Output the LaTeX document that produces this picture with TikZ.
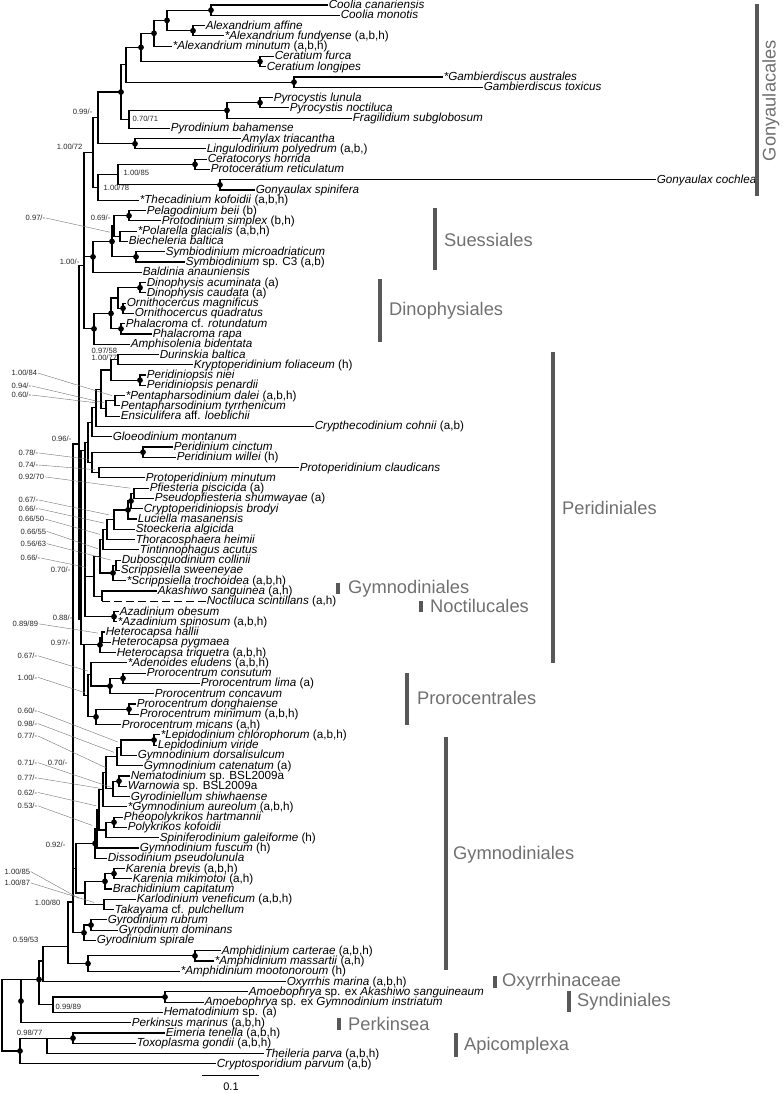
\documentclass[tikz,border=0pt]{standalone}
\usepackage{fontspec}
\setmainfont{Liberation Sans}
\definecolor{cladegray}{RGB}{112,112,112}
\definecolor{bargray}{RGB}{88,88,88}
\newcommand{\up}[1]{\textup{#1}}

\begin{document}
\begin{tikzpicture}[x=1pt, y=-10.28pt,
  branch/.style={line width=1.15pt},
  leaf/.style={anchor=west, inner sep=0.6pt, text height=8pt, text depth=1pt,
    font=\fontsize{11.7}{13}\selectfont\itshape},
  supp/.style={inner sep=0.5pt, text=black!85, font=\fontsize{7.6}{8}\selectfont},
  leader/.style={line width=0.4pt, black!55},
  clade/.style={anchor=west, inner sep=0pt, text=cladegray, font=\fontsize{18.3}{20}\selectfont},
  cladebar/.style={line width=4pt, draw=bargray}]
\useasboundingbox (0,0.514) rectangle (783,106.84);

% ---- leaves (x in px, y in rows)
% Gonyaulacales
\node[leaf] (Ccan) at (328,1) {Coolia canariensis};
\node[leaf] (Cmon) at (340,2) {Coolia monotis};
\node[leaf] (Aaff) at (205,3) {Alexandrium affine};
\node[leaf] (Afun) at (224,4) {*Alexandrium fundyense \up{(a,b,h)}};
\node[leaf] (Amin) at (172,5) {*Alexandrium minutum \up{(a,b,h)}};
\node[leaf] (Cfur) at (274,6) {Ceratium furca};
\node[leaf] (Clon) at (266,7) {Ceratium longipes};
\node[leaf] (Gaus) at (443,8) {*Gambierdiscus australes};
\node[leaf] (Gtox) at (483,9) {Gambierdiscus toxicus};
\node[leaf] (Plun) at (273,10) {Pyrocystis lunula};
\node[leaf] (Pnoc) at (289,11) {Pyrocystis noctiluca};
\node[leaf] (Fsub) at (352,12) {Fragilidium subglobosum};
\node[leaf] (Pbah) at (170,13) {Pyrodinium bahamense};
\node[leaf] (Atri) at (241,14) {Amylax triacantha};
\node[leaf] (Lpol) at (206,15) {Lingulodinium polyedrum \up{(a,b,)}};
\node[leaf] (Chor) at (207,16) {Ceratocorys horrida};
\node[leaf] (Pret) at (210,17) {Protoceratium reticulatum};
\node[leaf] (Gcoc) at (656,18) {Gonyaulax cochlea};
\node[leaf] (Gspi) at (255,19) {Gonyaulax spinifera};
\node[leaf] (Tkof) at (139,20) {*Thecadinium kofoidii \up{(a,b,h)}};
% Suessiales
\node[leaf] (Pbei) at (146,21) {Pelagodinium beii \up{(b)}};
\node[leaf] (Psim) at (161,22) {Protodinium simplex \up{(b,h)}};
\node[leaf] (Pgla) at (137,23) {*Polarella glacialis \up{(a,b,h)}};
\node[leaf] (Bbal) at (128,24) {Biecheleria baltica};
\node[leaf] (Smic) at (165,25) {Symbiodinium microadriaticum};
\node[leaf] (Ssp)  at (185,26) {Symbiodinium \up{sp. C3 (a,b)}};
\node[leaf] (Bana) at (142,27) {Baldinia anauniensis};
% Dinophysiales
\node[leaf] (Dacu) at (146,28) {Dinophysis acuminata \up{(a)}};
\node[leaf] (Dcau) at (146,29) {Dinophysis caudata \up{(a)}};
\node[leaf] (Omag) at (126,30) {Ornithocercus magnificus};
\node[leaf] (Oqua) at (134,31) {Ornithocercus quadratus};
\node[leaf] (Prot) at (125,32) {Phalacroma \up{cf.} rotundatum};
\node[leaf] (Prap) at (152,33) {Phalacroma rapa};
\node[leaf] (Abid) at (130,34) {Amphisolenia bidentata};
% Peridiniales
\node[leaf] (Dbal) at (159,35) {Durinskia baltica};
\node[leaf] (Kfol) at (193,36) {Kryptoperidinium foliaceum \up{(h)}};
\node[leaf] (Pnie) at (146,37) {Peridiniopsis niei};
\node[leaf] (Ppen) at (146,38) {Peridiniopsis penardii};
\node[leaf] (Pdal) at (125,39) {*Pentapharsodinium dalei \up{(a,b,h)}};
\node[leaf] (Ptyr) at (120,40) {Pentapharsodinium tyrrhenicum};
\node[leaf] (Eloe) at (120,41) {Ensiculifera \up{aff.} loeblichii};
\node[leaf] (Ccoh) at (314,42) {Crypthecodinium cohnii \up{(a,b)}};
\node[leaf] (Gmon) at (112,43) {Gloeodinium montanum};
\node[leaf] (Pcin) at (173,44) {Peridinium cinctum};
\node[leaf] (Pwil) at (176,45) {Peridinium willei \up{(h)}};
\node[leaf] (Pcla) at (299,46) {Protoperidinium claudicans};
\node[leaf] (Pmin) at (145,47) {Protoperidinium minutum};
\node[leaf] (Ppis) at (149,48) {Pfiesteria piscicida \up{(a)}};
\node[leaf] (Pshu) at (154,49) {Pseudopfiesteria shumwayae \up{(a)}};
\node[leaf] (Cbro) at (143,50) {Cryptoperidiniopsis brodyi};
\node[leaf] (Lmas) at (137,51) {Luciella masanensis};
\node[leaf] (Salg) at (135,52) {Stoeckeria algicida};
\node[leaf] (Thei) at (135,53) {Thoracosphaera heimii};
\node[leaf] (Tacu) at (139,54) {Tintinnophagus acutus};
\node[leaf] (Dcol) at (121,55) {Duboscquodinium collinii};
\node[leaf] (Sswe) at (120,56) {Scrippsiella sweeneyae};
\node[leaf] (Stro) at (126,57) {*Scrippsiella trochoidea \up{(a,b,h)}};
\node[leaf] (Asan) at (157,58) {Akashiwo sanguinea \up{(a,h)}};
\node[leaf] (Nsci) at (206,59) {Noctiluca scintillans \up{(a,h)}};
\node[leaf] (Aobe) at (119,60) {Azadinium obesum};
\node[leaf] (Aspi) at (117,61) {*Azadinium spinosum \up{(a,b,h)}};
\node[leaf] (Hhal) at (105,62) {Heterocapsa hallii};
\node[leaf] (Hpyg) at (111,63) {Heterocapsa pygmaea};
\node[leaf] (Htri) at (116,64) {Heterocapsa triquetra \up{(a,b,h)}};
% Prorocentrales
\node[leaf] (Aelu) at (127,65) {*Adenoides eludens \up{(a,b,h)}};
\node[leaf] (Pcon) at (146,66) {Prorocentrum consutum};
\node[leaf] (Plim) at (200,67) {Prorocentrum lima \up{(a)}};
\node[leaf] (Pcav) at (154,68) {Prorocentrum concavum};
\node[leaf] (Pdon) at (136,69) {Prorocentrum donghaiense};
\node[leaf] (Pmnm) at (139,70) {Prorocentrum minimum \up{(a,b,h)}};
\node[leaf] (Pmic) at (121,71) {Prorocentrum micans \up{(a,h)}};
% Gymnodiniales
\node[leaf] (Lchl) at (160,72) {*Lepidodinium chlorophorum \up{(a,b,h)}};
\node[leaf] (Lvir) at (157,73) {Lepidodinium viride};
\node[leaf] (Gdor) at (137,74) {Gymnodinium dorsalisulcum};
\node[leaf] (Gcat) at (143,75) {Gymnodinium catenatum \up{(a)}};
\node[leaf] (Nsp)  at (130,76) {Nematodinium \up{sp. BSL2009a}};
\node[leaf] (Wsp)  at (127,77) {Warnowia \up{sp. BSL2009a}};
\node[leaf] (Gshi) at (130,78) {Gyrodiniellum shiwhaense};
\node[leaf] (Gaur) at (127,79) {*Gymnodinium aureolum \up{(a,b,h)}};
\node[leaf] (Phar) at (123,80) {Pheopolykrikos hartmannii};
\node[leaf] (Pkof) at (127,81) {Polykrikos kofoidii};
\node[leaf] (Sgal) at (159,82) {Spiniferodinium galeiforme \up{(h)}};
\node[leaf] (Gfus) at (139,83) {Gymnodinium fuscum \up{(h)}};
\node[leaf] (Dpse) at (107,84) {Dissodinium pseudolunula};
\node[leaf] (Kbre) at (125,85) {Karenia brevis \up{(a,b,h)}};
\node[leaf] (Kmik) at (132,86) {Karenia mikimotoi \up{(a,h)}};
\node[leaf] (Bcap) at (112,87) {Brachidinium capitatum};
\node[leaf] (Kven) at (136,88) {Karlodinium veneficum \up{(a,b,h)}};
\node[leaf] (Tpul) at (114,89) {Takayama \up{cf.} pulchellum};
\node[leaf] (Grub) at (107,90) {Gyrodinium rubrum};
\node[leaf] (Gdom) at (118,91) {Gyrodinium dominans};
\node[leaf] (Gspr) at (96,92) {Gyrodinium spirale};
\node[leaf] (Acar) at (221,93) {Amphidinium carterae \up{(a,b,h)}};
\node[leaf] (Amas) at (214,94) {*Amphidinium massartii \up{(a,h)}};
\node[leaf] (Amoo) at (180,95) {*Amphidinium mootonoroum \up{(h)}};
% outgroups
\node[leaf] (Omar) at (286,96) {Oxyrrhis marina \up{(a,b,h)}};
\node[leaf] (AmAk) at (248,97) {Amoebophrya \up{sp. ex} Akashiwo sanguineaum};
\node[leaf] (AmGy) at (204,98) {Amoebophrya \up{sp. ex} Gymnodinium instriatum};
\node[leaf] (Hsp)  at (163,99) {Hematodinium \up{sp. (a)}};
\node[leaf] (Pmar) at (131,100) {Perkinsus marinus \up{(a,b,h)}};
\node[leaf] (Eten) at (165,101) {Eimeria tenella \up{(a,b,h)}};
\node[leaf] (Tgon) at (136,102) {Toxoplasma gondii \up{(a,b,h)}};
\node[leaf] (Tpar) at (264,103) {Theileria parva \up{(a,b,h)}};
\node[leaf] (Cpar) at (216,104) {Cryptosporidium parvum \up{(a,b)}};

% ---- internal nodes
\coordinate (nCool) at (211,1.5);
\coordinate (nAlex) at (193,3.5);
\coordinate (nCA)   at (167,2.5);
\coordinate (nCAm)  at (154,3.75);
\coordinate (nCer)  at (260,6.5);
\coordinate (nAC)   at (141,5.12);
\coordinate (nGam)  at (294,8.5);
\coordinate (nAG)   at (126,6.81);
\coordinate (nPyr)  at (260,10.5);
\coordinate (nPF)   at (227,11.25);
\coordinate (nPyd)  at (129,12.12);
\coordinate (nB)    at (121,9.47);
\coordinate (nAmy)  at (135,14.5);
\coordinate (nC)    at (98,11.98);
\coordinate (nCP)   at (195,16.5);
\coordinate (nGon)  at (220,18.5);
\coordinate (nG)    at (118,17.5);
\coordinate (nH)    at (98,18.75);
\coordinate (nE)    at (93,15.37);
\coordinate (nPP)   at (129,21.5);
\coordinate (nPB)   at (120,23.5);
\coordinate (nJ)    at (114,22.5);
\coordinate (nSym)  at (136,25.5);
\coordinate (nK)    at (112,24);
\coordinate (nL)    at (93,25.5);
\coordinate (nDin)  at (140,28.5);
\coordinate (nOrn)  at (123,30.5);
\coordinate (nN)    at (118,29.5);
\coordinate (nPha)  at (121,32.5);
\coordinate (nO)    at (111,31);
\coordinate (nP)    at (94,32.5);
\coordinate (nI)    at (84,26.3);
\coordinate (nDK)   at (118,35.5);
\coordinate (nPrd)  at (140,37.5);
\coordinate (nDKP)  at (111,36.5);
\coordinate (nPen)  at (115,39.5);
\coordinate (nPE)   at (106,40.25);
\coordinate (nQa)   at (101,38.38);
\coordinate (nQb)   at (96,40.19);
\coordinate (nQc)   at (92,41.6);
\coordinate (nPci)  at (143,44.5);
\coordinate (nPro)  at (99,46.5);
\coordinate (nPP2)  at (92,45.5);
\coordinate (nT1)   at (88,43.55);
\coordinate (nPf)   at (134,48.5);
\coordinate (nPfC)  at (131,49.25);
\coordinate (nPfL)  at (128,50.12);
\coordinate (nS1)   at (114,51.06);
\coordinate (nS2)   at (107,52.03);
\coordinate (nS3)   at (103,53.02);
\coordinate (nDS)   at (116,55.5);
\coordinate (nScr)  at (113,56.25);
\coordinate (nS4)   at (100,54.63);
\coordinate (nAN)   at (102,58.5);
\coordinate (nS5)   at (94,56.57);
\coordinate (nAza)  at (114,60.5);
\coordinate (nT2)   at (85,44.3);
\coordinate (nHe1)  at (102,62.5);
\coordinate (nHet)  at (100,63.25);
\coordinate (nPr1)  at (123,66.5);
\coordinate (nPr2)  at (110,67.25);
\coordinate (nAdP)  at (91,66.12);
\coordinate (nPr3)  at (129,69.5);
\coordinate (nPr4)  at (96,70.25);
\coordinate (nProA) at (88,68.19);
\coordinate (nHA)   at (84,63.25);
\coordinate (nT3)   at (81,60.8);
\coordinate (nZ1)   at (79,43.7);
\coordinate (nLep)  at (154,72.5);
\coordinate (nLe2)  at (121,73.25);
\coordinate (nLe3)  at (117,74.12);
\coordinate (nNW)   at (119,76.5);
\coordinate (nNWG)  at (113,77.25);
\coordinate (nGA)   at (106,75.69);
\coordinate (nGB)   at (103,77.34);
\coordinate (nPhe)  at (114,80.5);
\coordinate (nPS)   at (106,81.25);
\coordinate (nGC)   at (99,79.3);
\coordinate (nFD1)  at (97,81.15);
\coordinate (nFD)   at (95,82.57);
\coordinate (nKB)   at (114,85.5);
\coordinate (nKBB)  at (105,86.25);
\coordinate (nKT)   at (104,88.5);
\coordinate (nKar)  at (85,87.38);
\coordinate (nGy1)  at (76,84.97);
\coordinate (nGR)   at (91,90.5);
\coordinate (nGRS)  at (84,91.25);
\coordinate (nZ2)   at (73,88.26);
\coordinate (nAmp)  at (195,93.5);
\coordinate (nAm3)  at (88,94.25);
\coordinate (nG1)   at (68,92.6);
\coordinate (nG2)   at (43,94);
\coordinate (nAmo)  at (165,97.5);
\coordinate (nSyn)  at (53,98.25);
\coordinate (nD1)   at (39,95.8);
\coordinate (nD2)   at (21,95.8);
\coordinate (nD2dot) at (21,97.9);
\coordinate (nET)   at (73,101.5);
\coordinate (nETT)  at (47,101.5);
\coordinate (nApi)  at (20,102.75);
\coordinate (nRoot) at (2,99);

% ---- branches
\foreach \p/\c in {nCool/Ccan, nCool/Cmon, nAlex/Aaff, nAlex/Afun, nCA/nCool, nCA/nAlex,
    nCAm/nCA, nCAm/Amin, nCer/Cfur, nCer/Clon, nAC/nCAm, nAC/nCer, nGam/Gaus, nGam/Gtox,
    nAG/nAC, nAG/nGam, nPyr/Plun, nPyr/Pnoc, nPF/nPyr, nPF/Fsub, nPyd/nPF, nPyd/Pbah,
    nB/nAG, nB/nPyd, nAmy/Atri, nAmy/Lpol, nC/nB, nC/nAmy, nCP/Chor, nCP/Pret,
    nGon/Gcoc, nGon/Gspi, nG/nCP, nG/nGon, nH/nG, nH/Tkof, nE/nC, nE/nH,
    nPP/Pbei, nPP/Psim, nPB/Pgla, nPB/Bbal, nJ/nPP, nJ/nPB, nSym/Smic, nSym/Ssp,
    nK/nJ, nK/nSym, nL/nK, nL/Bana, nDin/Dacu, nDin/Dcau, nOrn/Omag, nOrn/Oqua,
    nN/nDin, nN/nOrn, nPha/Prot, nPha/Prap, nO/nN, nO/nPha, nP/nO, nP/Abid,
    nI/nE, nI/nL, nI/nP,
    nDK/Dbal, nDK/Kfol, nPrd/Pnie, nPrd/Ppen, nDKP/nDK, nDKP/nPrd, nPen/Pdal, nPen/Ptyr,
    nPE/nPen, nPE/Eloe, nQa/nDKP, nQa/nPE, nQb/nQa, nQb/Ccoh, nQc/nQb, nQc/Gmon,
    nPci/Pcin, nPci/Pwil, nPro/Pcla, nPro/Pmin, nPP2/nPci, nPP2/nPro, nT1/nQc, nT1/nPP2,
    nPf/Ppis, nPf/Pshu, nPfC/nPf, nPfC/Cbro, nPfL/nPfC, nPfL/Lmas, nS1/nPfL, nS1/Salg,
    nS2/nS1, nS2/Thei, nS3/nS2, nS3/Tacu, nDS/Dcol, nDS/Sswe, nScr/nDS, nScr/Stro,
    nS4/nS3, nS4/nScr, nAN/Asan, nS5/nS4, nS5/nAN, nAza/Aobe, nAza/Aspi,
    nT2/nT1, nT2/nS5, nT2/nAza, nHe1/Hhal, nHe1/Hpyg, nHet/nHe1, nHet/Htri,
    nPr1/Pcon, nPr1/Plim, nPr2/nPr1, nPr2/Pcav, nAdP/Aelu, nAdP/nPr2, nPr3/Pdon, nPr3/Pmnm,
    nPr4/nPr3, nPr4/Pmic, nProA/nAdP, nProA/nPr4, nHA/nHet, nHA/nProA, nT3/nT2, nT3/nHA,
    nZ1/nI, nZ1/nT3,
    nLep/Lchl, nLep/Lvir, nLe2/nLep, nLe2/Gdor, nLe3/nLe2, nLe3/Gcat, nNW/Nsp, nNW/Wsp,
    nNWG/nNW, nNWG/Gshi, nGA/nLe3, nGA/nNWG, nGB/nGA, nGB/Gaur, nPhe/Phar, nPhe/Pkof,
    nPS/nPhe, nPS/Sgal, nGC/nGB, nGC/nPS, nFD1/nGC, nFD1/Gfus, nFD/nFD1, nFD/Dpse,
    nKB/Kbre, nKB/Kmik, nKBB/nKB, nKBB/Bcap, nKT/Kven, nKT/Tpul, nKar/nKBB, nKar/nKT,
    nGy1/nFD, nGy1/nKar, nGR/Grub, nGR/Gdom, nGRS/nGR, nGRS/Gspr,
    nZ2/nZ1, nZ2/nGy1, nZ2/nGRS, nAmp/Acar, nAmp/Amas, nAm3/nAmp, nAm3/Amoo,
    nG1/nZ2, nG1/nAm3, nG2/nG1, nG2/Omar, nAmo/AmAk, nAmo/AmGy, nSyn/nAmo, nSyn/Hsp,
    nD1/nG2, nD1/nSyn, nD2/nD1, nD2/Pmar, nET/Eten, nET/Tgon, nETT/nET, nETT/Tpar,
    nApi/nETT, nApi/Cpar, nRoot/nD2, nRoot/nApi}
  \draw[branch] (\p) |- (\c);
% Noctiluca, dashed branch
\draw[branch] (nAN) -- (nAN |- Nsci);
\draw[branch, dash pattern=on 8pt off 4pt] (nAN |- Nsci) -- (Nsci);

% ---- full support dots
\foreach \n in {nCool, nAlex, nCA, nCAm, nCer, nAC, nGam, nPyr, nPF, nB, nAmy, nCP, nGon,
    nPP, nSym, nK, nL, nDin, nOrn, nPha, nO, nP, nPrd, nPci, nPfC, nPfL, nScr, nAza,
    nHet, nPr1, nPr2, nPr3, nPr4, nLep, nNW, nPhe, nFD, nKB, nKBB, nGR, nGRS, nAmp,
    nAm3, nAmo, nD1, nD2dot, nET, nApi}
  \fill (\n) circle (2.9pt);

% ---- support values
\node[supp, anchor=east] (b01) at (93,11.41) {0.99/-};
\node[supp, anchor=west] (b02) at (132,12.1) {0.70/71};
\node[supp, anchor=east] (b03) at (83,14.8) {1.00/72};
\node[supp, anchor=west] (b04) at (123,17.3) {1.00/85};
\node[supp, anchor=west] (b05) at (103,18.8) {1.00/78};
\node[supp, anchor=east] (b06) at (111,21.72) {0.69/-};
\node[supp, anchor=east] (b07) at (80,26.0) {1.00/-};
\node[supp, anchor=west] (b08) at (91,34.6) {0.97/58};
\node[supp, anchor=west] (b09) at (91,35.35) {1.00/77};
\node[supp, anchor=east] (b10) at (72,43.2) {0.96/-};
\node[supp, anchor=east] (b11) at (71,55.96) {0.70/-};
\node[supp, anchor=east] (b12) at (73,60.6) {0.88/-};
\node[supp, anchor=east] (b13) at (71,63.06) {0.97/-};
\node[supp, anchor=east] (b14) at (68,74.7) {0.70/-};
\node[supp, anchor=east] (b15) at (66,82.7) {0.92/-};
\node[supp, anchor=east] (b16) at (61,88.3) {1.00/80};
\node[supp, anchor=east] (b17) at (39,91.9) {0.59/53};
\node[supp, anchor=west] (b18) at (55,98.5) {0.99/89};
\node[supp, anchor=east] (b19) at (43,101.0) {0.98/77};

% support values with leader lines
\foreach \nm/\x/\r/\tx/\tr/\t in {
    s01/25/21.72/110/23.1/{0.97/-}, s02/11/36.8/112/39.0/{1.00/84},
    s03/11/38.06/104/39.7/{0.94/-}, s04/11/38.94/96/39.7/{0.60/-},
    s05/18/44.58/89/45.2/{0.78/-}, s06/18/45.75/95/46.2/{0.74/-},
    s07/18/46.9/130/48.0/{0.92/70}, s08/18/49.15/109/50.6/{0.67/-},
    s09/18/50.0/104/51.4/{0.66/-}, s10/18/51.0/100/52.5/{0.66/50},
    s11/20/52.2/98/53.9/{0.66/55}, s12/20/53.4/111/55.0/{0.56/63},
    s13/20/54.8/86/55.7/{0.66/-}, s14/12/61.2/98/62.1/{0.89/89},
    s15/17/64.3/88/65.8/{0.67/-}, s16/17/66.4/85/67.9/{1.00/-},
    s17/17/69.7/118/72.7/{0.60/-}, s18/17/70.9/114/73.7/{0.98/-},
    s19/17/72.1/106/75.2/{0.77/-}, s20/17/74.7/111/77.1/{0.71/-},
    s21/17/76.2/100/77.2/{0.77/-}, s22/17/77.6/96/78.9/{0.62/-},
    s23/17/78.9/92/80.8/{0.53/-}, s24/4/85.3/79/87.9/{1.00/85},
    s25/4/86.4/94/88.3/{1.00/87}}
{
  \node[supp, anchor=west] (\nm) at (\x,\r) {\t};
  \coordinate (\nm-end) at (\tx,\tr);
  \draw[leader] (\nm.east) -- (\nm-end);
}

% ---- clade bars and names
\draw[cladebar] (757,0.9) -- (757,19.6);
\node[clade, anchor=center, rotate=90] (cGon) at (771,10.3) {Gonyaulacales};
\draw[cladebar] (435,20.75) -- (435,26.8);
\node[clade] (cSue) at (444,23.9) {Suessiales};
\draw[cladebar] (380,27.7) -- (380,33.8);
\node[clade] (cDin) at (389,30.7) {Dinophysiales};
\draw[cladebar] (553,34.75) -- (553,65);
\node[clade] (cPer) at (562,49.9) {Peridiniales};
\draw[cladebar] (338,57.2) -- (338,58.3);
\node[clade] (cGy1) at (348,57.75) {Gymnodiniales};
\draw[cladebar] (421,59.0) -- (421,60.0);
\node[clade] (cNoc) at (430,59.5) {Noctilucales};
\draw[cladebar] (407,66) -- (407,71);
\node[clade] (cPro) at (417,68.4) {Prorocentrales};
\draw[cladebar] (446,72.2) -- (446,94.9);
\node[clade] (cGy2) at (453,83.7) {Gymnodiniales};
\draw[cladebar] (495,95.5) -- (495,96.6);
\node[clade] (cOxy) at (502,96.0) {Oxyrrhinaceae};
\draw[cladebar] (569,96.9) -- (569,99.0);
\node[clade] (cSyn) at (577,97.95) {Syndiniales};
\draw[cladebar] (339,99.5) -- (339,100.7);
\node[clade] (cPkn) at (348,100.1) {Perkinsea};
\draw[cladebar] (456,101) -- (456,103.3);
\node[clade] (cApi) at (464,102.2) {Apicomplexa};

% ---- scale bar
\coordinate (sbA) at (202,105.18);
\coordinate (sbB) at (259,105.18);
\draw[line width=1pt] (sbA) -- (sbB);
\node[font=\fontsize{11}{12}\selectfont, inner sep=0pt] (sbl) at (231,106.25) {0.1};
\end{tikzpicture}
\end{document}
